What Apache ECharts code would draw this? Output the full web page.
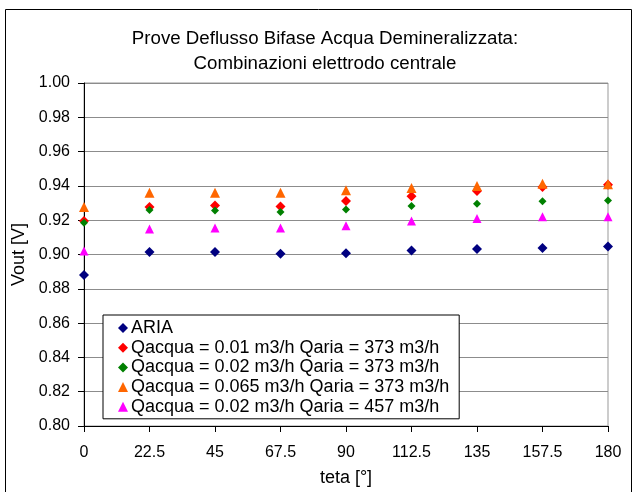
<!DOCTYPE html>
<html>
<head>
<meta charset="utf-8">
<script src="https://cdn.jsdelivr.net/npm/echarts@6/dist/echarts.min.js"></script>
<style>html,body{margin:0;padding:0;background:#fff;}#c{width:637px;height:492px;}</style>
</head>
<body>
<div id="c"></div>
<script>
const teta = [0, 22.5, 45, 67.5, 90, 112.5, 135, 157.5, 180];
const seriesNames = [
  'ARIA',
  'Qacqua = 0.01 m3/h Qaria = 373 m3/h',
  'Qacqua = 0.02 m3/h Qaria = 373 m3/h',
  'Qacqua = 0.065 m3/h Qaria = 373 m3/h',
  'Qacqua = 0.02 m3/h Qaria = 457 m3/h'
];
const aria     = [0.888, 0.9015, 0.9015, 0.9005, 0.9008, 0.9023, 0.9032, 0.9038, 0.9046];
const q001_373 = [0.9195, 0.9277, 0.9285, 0.928, 0.9312, 0.934, 0.937, 0.9394, 0.9407];
const q002_373 = [0.9185, 0.926, 0.9256, 0.9248, 0.9263, 0.9283, 0.9296, 0.931, 0.9315];
const q0065_373 = [0.9277, 0.936, 0.936, 0.936, 0.9375, 0.9388, 0.940, 0.9413, 0.941];
const q002_457 = [0.902, 0.9148, 0.9154, 0.9154, 0.9167, 0.9196, 0.921, 0.922, 0.922];
const yTicks = [0.80, 0.82, 0.84, 0.86, 0.88, 0.90, 0.92, 0.94, 0.96, 0.98, 1.00];

const allData = [aria, q001_373, q002_373, q0065_373, q002_457];
const colors = ['#000080', '#FF0000', '#008000', '#FF6600', '#FF00FF'];
const symbols = ['diamond', 'diamond', 'diamond', 'triangle', 'triangle'];
const sizes = [10, 10, 8, 10, 9];

const chart = echarts.init(document.getElementById('c'));
const font = 'Liberation Sans, Arial, sans-serif';
chart.setOption({
  animation: false,
  backgroundColor: '#fff',
  graphic: [
    {type: 'rect', shape: {x: 5.5, y: 9.5, width: 626, height: 500}, style: {fill: 'none', stroke: '#000', lineWidth: 1}, z: -1},
    {type: 'text', x: 325, y: 38.5, style: {text: 'Prove Deflusso Bifase Acqua Demineralizzata:', font: '18.7px ' + font, fill: '#000', textAlign: 'center', textVerticalAlign: 'middle'}},
    {type: 'text', x: 325, y: 64, style: {text: 'Combinazioni elettrodo centrale', font: '18.7px ' + font, fill: '#000', textAlign: 'center', textVerticalAlign: 'middle'}}
  ],
  grid: {left: 84, right: 29, top: 83, bottom: 61, show: true, borderColor: '#999', borderWidth: 1},
  legend: {
    orient: 'vertical', left: 103, top: 315,
    backgroundColor: '#fff', borderColor: '#000', borderWidth: 1,
    padding: [4, 10, 3, 15],
    itemWidth: 10, itemHeight: 10, itemGap: 1.7,
    textStyle: {fontSize: 18, fontFamily: font, color: '#000', lineHeight: 18, padding: [0, 0, 0, -2]},
    data: seriesNames.map((n, i) => ({name: n, icon: symbols[i]}))
  },
  xAxis: {
    type: 'value', min: 0, max: 180, interval: 22.5,
    name: 'teta [°]', nameLocation: 'middle', nameGap: 43,
    nameTextStyle: {fontSize: 18, fontFamily: font, color: '#000'},
    axisLine: {lineStyle: {color: '#000', width: 1}},
    axisTick: {show: true, length: 6, lineStyle: {color: '#000'}},
    axisLabel: {fontSize: 16, fontFamily: font, color: '#000', margin: 19},
    splitLine: {show: false}
  },
  yAxis: {
    type: 'value', min: yTicks[0], max: yTicks[yTicks.length - 1], interval: 0.02,
    name: 'Vout [V]', nameLocation: 'middle', nameGap: 52, nameRotate: 90,
    nameTextStyle: {fontSize: 18, fontFamily: font, color: '#000'},
    axisLine: {show: true, lineStyle: {color: '#000', width: 1}},
    axisTick: {show: true, length: 6, lineStyle: {color: '#000'}},
    axisLabel: {fontSize: 16, fontFamily: font, color: '#000', margin: 14, formatter: v => v.toFixed(2)},
    splitLine: {show: true, lineStyle: {color: '#8c8c8c', width: 1}}
  },
  series: allData.map((d, i) => ({
    name: seriesNames[i],
    type: 'scatter',
    symbol: symbols[i],
    symbolSize: sizes[i],
    itemStyle: {color: colors[i], opacity: 1},
    data: teta.map((t, j) => [t, d[j]]),
    z: 2 + i
  }))
});
</script>
</body>
</html>
